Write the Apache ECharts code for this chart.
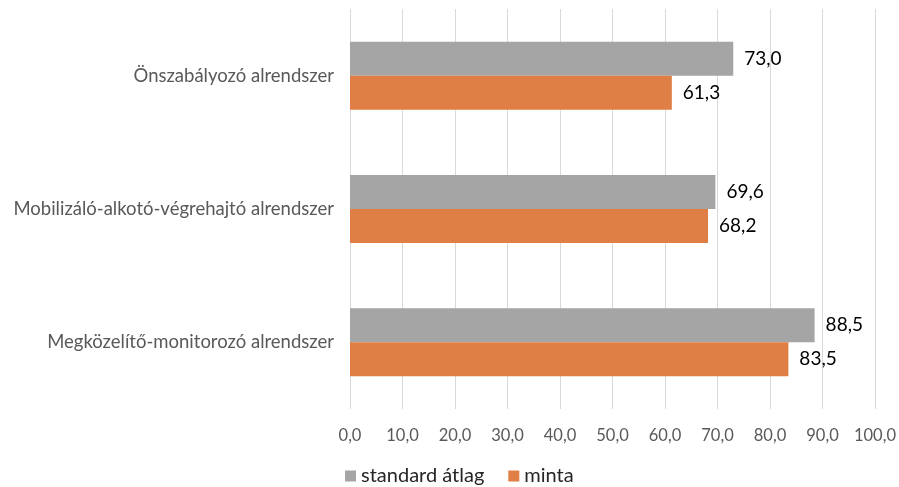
<!DOCTYPE html>
<html><head><meta charset="utf-8">
<script src="https://cdn.jsdelivr.net/npm/echarts@6/dist/echarts.min.js"></script>
<style>html,body{margin:0;padding:0;background:#fff}#c{width:899px;height:487px}</style>
</head><body><div id="c"></div>
<script>
const categories = ["Önszabályozó alrendszer", "Mobilizáló-alkotó-végrehajtó alrendszer", "Megközelítő-monitorozó alrendszer"];
const standardAtlag = [73.0, 69.6, 88.5];
const minta = [61.3, 68.2, 83.5];
const seriesNames = ["standard átlag", "minta"];
const FONT = "Lato";
const fmt = v => v.toFixed(1).replace('.', ',');
const chart = echarts.init(document.getElementById('c'), null, {renderer: 'canvas'});
chart.setOption({
  animation: false,
  textStyle: {fontFamily: FONT},
  grid: {left: 350, right: 23, top: 9, height: 400, containLabel: false},
  legend: {
    data: seriesNames, left: 345, top: 466, itemWidth: 11, itemHeight: 11, itemGap: 24,
    padding: [0, 0, 0, 0],
    textStyle: {fontFamily: FONT, fontSize: 20, color: '#262626'},
    icon: 'rect'
  },
  xAxis: {
    type: 'value', min: 0, max: 100, interval: 10,
    axisLine: {show: false}, axisTick: {show: false},
    splitLine: {lineStyle: {color: '#d9d9d9', width: 1}},
    axisLabel: {formatter: v => fmt(v), color: '#595959', fontSize: 16.5, fontFamily: FONT, margin: 18}
  },
  yAxis: {
    type: 'category', data: categories, inverse: true,
    axisLine: {show: false}, axisTick: {show: false},
    axisLabel: {color: '#595959', fontSize: 18.5, fontFamily: FONT, margin: 16}
  },
  series: [
    {name: seriesNames[0], type: 'bar', data: standardAtlag, barGap: '0%', barCategoryGap: '49%',
     itemStyle: {color: '#a5a5a5'},
     label: {show: true, position: 'right', distance: 11, formatter: p => fmt(p.value), color: '#000', fontSize: 19, fontFamily: FONT}},
    {name: seriesNames[1], type: 'bar', data: minta, barGap: '0%', barCategoryGap: '49%',
     itemStyle: {color: '#e07f45'},
     label: {show: true, position: 'right', distance: 11, formatter: p => fmt(p.value), color: '#000', fontSize: 19, fontFamily: FONT}}
  ]
});
</script></body></html>
